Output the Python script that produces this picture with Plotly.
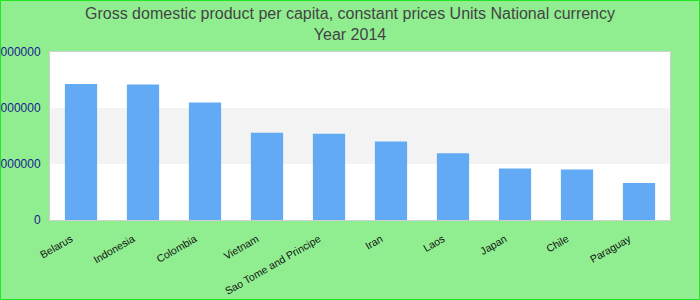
import plotly.graph_objects as go

countries = ["Belarus", "Indonesia", "Colombia", "Vietnam", "Sao Tome and Principe",
             "Iran", "Laos", "Japan", "Chile", "Paraguay"]
values = [24300000, 24200000, 21000000, 15600000, 15400000,
          14000000, 11900000, 9200000, 9000000, 6600000]
y_ticks = [0, 10000000, 20000000, 30000000]
y_tick_text = [str(v) for v in y_ticks]
title_text = "Gross domestic product per capita, constant prices Units National currency<br>Year 2014"

W, H = 700, 300
L, R, T, B = 50, 30, 52, 80
pw, ph = W - L - R, H - T - B

fig = go.Figure(go.Bar(x=countries, y=values, marker_color="#63aaf5",
                       marker_line_width=0, width=0.52))

shapes = []
for i in range(len(y_ticks) - 1):
    if i % 2 == 1:
        shapes.append(dict(type="rect", xref="paper", yref="y", x0=0, x1=1,
                           y0=y_ticks[i], y1=y_ticks[i + 1],
                           fillcolor="#f3f3f3", line_width=0, layer="below"))
# page border
shapes.append(dict(type="rect", xref="paper", yref="paper",
                   x0=(0.5 - L) / pw, x1=(W - 0.5 - L) / pw,
                   y0=(T + ph - (H - 0.5)) / ph, y1=(T + ph - 0.5) / ph,
                   line=dict(color="#22e622", width=1), fillcolor="rgba(0,0,0,0)",
                   layer="above"))

fig.add_annotation(text=title_text, xref="paper", yref="paper",
                   x=0.5 - (L - R) / 2 / pw, xanchor="center",
                   y=(T + ph - 3) / ph, yanchor="top", showarrow=False,
                   font=dict(family="Liberation Sans, Arial", size=16, color="#444444"))

fig.update_layout(
    width=W, height=H,
    margin=dict(l=L, r=R, t=T, b=B, autoexpand=False),
    paper_bgcolor="#90ee90", plot_bgcolor="#ffffff",
    font=dict(family="Liberation Sans, Arial"),
    bargap=0.48,
    shapes=shapes,
    showlegend=False,
    xaxis=dict(tickangle=-30, tickfont=dict(size=10.5, color="#111111"),
               ticklabelshift=-10, ticklabelstandoff=8,
               showline=True, linecolor="#d0d0d0", linewidth=1, mirror=True,
               showgrid=False, automargin=False, ticks=""),
    yaxis=dict(range=[0, 30000000], tickvals=y_ticks, ticktext=y_tick_text,
               tickfont=dict(size=12, color="#1a1a8c"), ticklabelstandoff=6,
               showline=True, linecolor="#d0d0d0", linewidth=1, mirror=True,
               showgrid=False, zeroline=False, automargin=False, ticks=""),
)

fig.write_html("out.html")
